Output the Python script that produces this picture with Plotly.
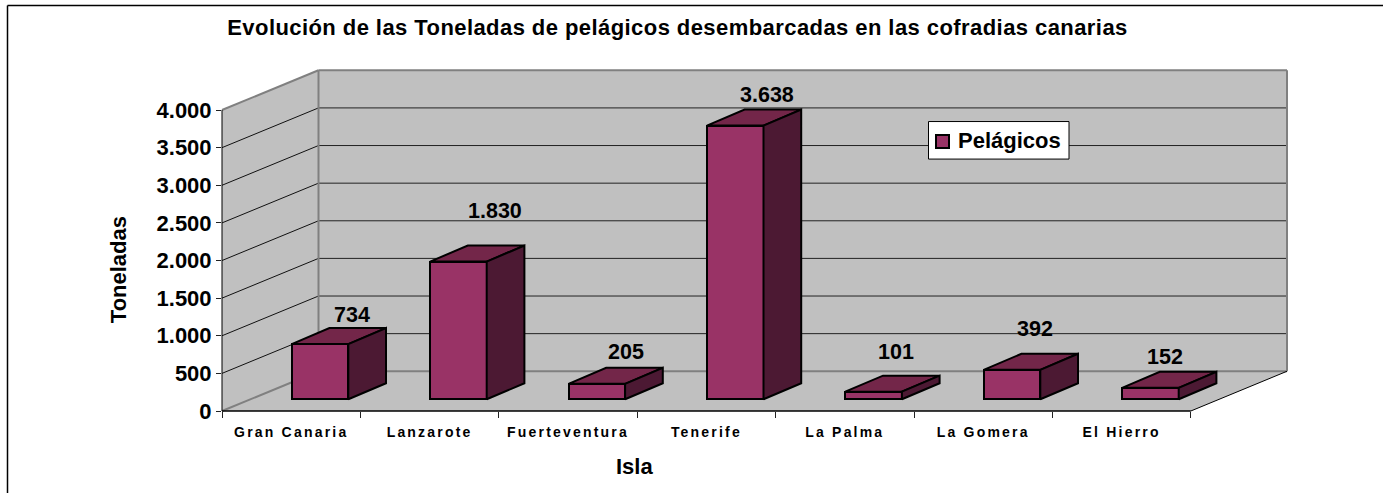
import plotly.graph_objects as go

# --- data ---
islands = ["Gran Canaria", "Lanzarote", "Fuerteventura", "Tenerife", "La Palma", "La Gomera", "El Hierro"]
tonnes = [734, 1830, 205, 3638, 101, 392, 152]
value_labels = ["734", "1.830", "205", "3.638", "101", "392", "152"]
y_ticks = [0, 500, 1000, 1500, 2000, 2500, 3000, 3500, 4000]
y_tick_labels = ["0", "500", "1.000", "1.500", "2.000", "2.500", "3.000", "3.500", "4.000"]
series_name = "Pelágicos"
title_text = "Evolución de las Toneladas de pelágicos desembarcadas en las cofradias canarias"
x_title = "Isla"
y_title = "Toneladas"

# --- oblique projection constants (style, in axis units) ---
FONT = "Liberation Sans, Arial, sans-serif"
L, R, T, B = 222.0, 1287.0, 71.0, 410.7          # plot area in pixels
PX_X = 138.4                                     # pixels per category
PX_Y = 300.7 / 4000                              # pixels per tonne
X_MAX = (R - L) / PX_X
Y_MAX = (B - T) / PX_Y
WALL_DX, WALL_DY = 96.5 / PX_X, 39.7 / PX_Y      # depth of the floor
BAR_DX, BAR_DY = 37.7 / PX_X, 16.0 / PX_Y        # depth of a bar
BAR_X0 = (320 - L) / PX_X                        # first bar centre
BAR_W = 56.6 / PX_X
BAR_BASE = 11.7 / PX_Y                           # lift of the bars above the front edge
N = len(islands)

FRONT, TOP, SIDE = "#993366", "#732649", "#4C1933"
WALL, EDGE = "#C0C0C0", "#808080"

fig = go.Figure()
centres = [i + BAR_X0 for i in range(N)]

# front faces
fig.add_trace(go.Bar(
    x=centres, y=tonnes, base=BAR_BASE, width=BAR_W, name=series_name,
    marker=dict(color=FRONT, line=dict(color="black", width=2)),
    showlegend=False, hoverinfo="x+y",
))

# top and side faces
for c, v in zip(centres, tonnes):
    x0, x1 = c - BAR_W / 2, c + BAR_W / 2
    y0, y1 = BAR_BASE, BAR_BASE + v
    fig.add_trace(go.Scatter(
        x=[x0, x1, x1 + BAR_DX, x0 + BAR_DX, x0], y=[y1, y1, y1 + BAR_DY, y1 + BAR_DY, y1],
        mode="lines", fill="toself", fillcolor=TOP, line=dict(color="black", width=2),
        showlegend=False, hoverinfo="skip", cliponaxis=False,
    ))
    fig.add_trace(go.Scatter(
        x=[x1, x1 + BAR_DX, x1 + BAR_DX, x1, x1], y=[y0, y0 + BAR_DY, y1 + BAR_DY, y1, y0],
        mode="lines", fill="toself", fillcolor=SIDE, line=dict(color="black", width=2),
        showlegend=False, hoverinfo="skip", cliponaxis=False,
    ))


def px(x):
    return x / X_MAX


def py(y):
    return y / Y_MAX


def line(x0, y0, x1, y1, color="black", width=1, layer="below"):
    return dict(type="line", xref="paper", yref="paper", x0=px(x0), y0=py(y0), x1=px(x1), y1=py(y1),
                line=dict(color=color, width=width), layer=layer)


def poly(points, color, layer="below"):
    path = "M" + " L".join(f"{px(x)},{py(y)}" for x, y in points) + " Z"
    return dict(type="path", xref="paper", yref="paper", path=path, fillcolor=color,
                line=dict(width=0), layer=layer)


top_v = y_ticks[-1]
shapes = [
    poly([(0, 0), (WALL_DX, WALL_DY), (X_MAX, WALL_DY), (N, 0)], WALL),
    poly([(0, 0), (0, top_v), (WALL_DX, top_v + WALL_DY), (WALL_DX, WALL_DY)], WALL),
    poly([(WALL_DX, WALL_DY), (WALL_DX, top_v + WALL_DY), (X_MAX, top_v + WALL_DY), (X_MAX, WALL_DY)], WALL),
]
for v in y_ticks[1:-1]:
    shapes.append(line(0, v, WALL_DX, v + WALL_DY, "#111111", 1))
    shapes.append(line(WALL_DX, v + WALL_DY, X_MAX, v + WALL_DY, "#222222", 1))
shapes += [
    line(WALL_DX, top_v + WALL_DY, X_MAX, top_v + WALL_DY, EDGE, 2),
    line(0, top_v, WALL_DX, top_v + WALL_DY, EDGE, 2),
    line(WALL_DX, WALL_DY, WALL_DX, top_v + WALL_DY, EDGE, 2),
    line(X_MAX, WALL_DY, X_MAX, top_v + WALL_DY, EDGE, 2),
    line(WALL_DX, WALL_DY, X_MAX, WALL_DY, EDGE, 2),
    line(0, 0, WALL_DX, WALL_DY, EDGE, 2),
    line(0, 0, 0, top_v, "black", 1),
    line(0, 0, N, 0, "black", 1.5),
    line(N, 0, X_MAX, WALL_DY, "black", 1),
]


def pxx(p):
    return (p - L) / (R - L)


def pxy(p):
    return (B - p) / (B - T)


# chart frame (top and left only show in the crop)
shapes.append(dict(type="line", xref="paper", yref="paper", x0=pxx(7.5), y0=pxy(5.5), x1=pxx(1383), y1=pxy(5.5),
                   line=dict(color="black", width=1.5), layer="below"))
shapes.append(dict(type="line", xref="paper", yref="paper", x0=pxx(7.5), y0=pxy(5.5), x1=pxx(7.5), y1=pxy(493),
                   line=dict(color="black", width=1.5), layer="below"))

# legend box
shapes.append(dict(type="rect", xref="paper", yref="paper", x0=pxx(928.5), x1=pxx(1069), y0=pxy(159), y1=pxy(121.5),
                   fillcolor="white", line=dict(color="black", width=1), layer="above"))
shapes.append(dict(type="rect", xref="paper", yref="paper", x0=pxx(936), x1=pxx(949), y0=pxy(148), y1=pxy(135),
                   fillcolor=FRONT, line=dict(color="black", width=2), layer="above"))

# value labels: pixel offsets from the centre of each bar's front top edge
label_dx = [31.7, 36.5, 29, 31.5, 22.5, 23, 15]
label_dy = [-29, -51, -32, -31, -40, -41, -31]
BOLD = dict(family=FONT, color="black", weight="bold")
annotations = [
    dict(x=c, y=BAR_BASE + v, xref="x", yref="y", text=t, showarrow=False, xanchor="center", yanchor="middle",
         xshift=dx, yshift=-dy, font=dict(size=21.5, **BOLD))
    for c, v, t, dx, dy in zip(centres, tonnes, value_labels, label_dx, label_dy)
]
annotations += [
    dict(x=pxx(1009), y=pxy(140.5), xref="paper", yref="paper", text=series_name, showarrow=False,
         xanchor="center", yanchor="middle", font=dict(size=22, **BOLD)),
    dict(x=pxx(634), y=pxy(466), xref="paper", yref="paper", text=x_title, showarrow=False,
         xanchor="center", yanchor="middle", font=dict(size=22, **BOLD)),
    dict(x=pxx(118), y=pxy(270), xref="paper", yref="paper", text=y_title, showarrow=False, textangle=-90,
         xanchor="center", yanchor="middle", font=dict(size=22, **BOLD)),
]

fig.update_layout(
    width=1383, height=493, autosize=False,
    margin=dict(l=L, r=1383 - R, t=T, b=493 - B, pad=0),
    paper_bgcolor="white", plot_bgcolor="rgba(0,0,0,0)",
    showlegend=False, bargap=0,
    title=dict(text=title_text, x=677.5 / 1383, xref="container", xanchor="center",
               y=1 - 27 / 493, yref="container", yanchor="middle",
               font=dict(size=22, **BOLD)),
    xaxis=dict(
        range=[0, X_MAX], showgrid=False, zeroline=False, showline=False,
        tickmode="array", tickvals=[i + 0.5 for i in range(N)], ticktext=islands, ticks="",
        tickfont=dict(size=14, **BOLD), ticklabelstandoff=11,
        minor=dict(tickmode="array", tickvals=list(range(N + 1)), ticks="outside", ticklen=6,
                   tickcolor="#222222", tickwidth=1, showgrid=False),
    ),
    yaxis=dict(
        range=[0, Y_MAX], showgrid=False, zeroline=False, showline=False,
        tickmode="array", tickvals=y_ticks, ticktext=y_tick_labels, ticks="outside", ticklen=5,
        tickcolor="#222222", tickwidth=1,
        tickfont=dict(size=22, **BOLD),
    ),
    shapes=shapes, annotations=annotations,
)

post = """
document.documentElement.style.margin='0';
document.body.style.margin='0';
document.querySelectorAll('.xtick text').forEach(function(t){t.style.letterSpacing='2.2px';});
document.querySelectorAll('.gtitle').forEach(function(t){t.style.letterSpacing='0.43px';});
"""
fig.write_html("out.html", config=dict(displayModeBar=False), post_script=post)
